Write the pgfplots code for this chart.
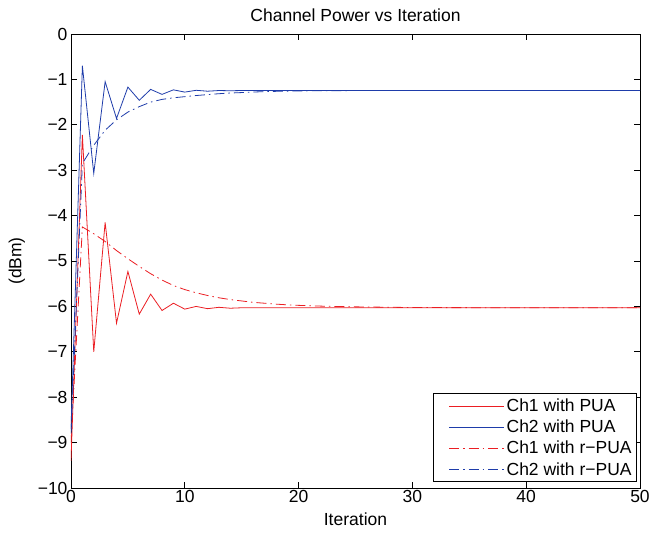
\documentclass[border=0pt]{standalone}
\usepackage{fontspec}
\setmainfont{Liberation Sans}
\usepackage{pgfplots}
\pgfplotsset{compat=1.18}

\definecolor{chred}{RGB}{235,30,35}
\definecolor{chblue}{RGB}{30,60,170}

\pgfplotstableread{
x ch1 ch2
0 -9.4 -8.7
1 -2.22 -0.70
2 -7.00 -3.07
3 -4.15 -1.05
4 -6.37 -1.86
5 -5.23 -1.17
6 -6.17 -1.46
7 -5.73 -1.22
8 -6.09 -1.33
9 -5.93 -1.23
10 -6.06 -1.28
11 -6.00 -1.24
12 -6.05 -1.26
13 -6.02 -1.245
14 -6.04 -1.25
15 -6.03 -1.245
20 -6.03 -1.245
30 -6.03 -1.245
40 -6.03 -1.245
50 -6.03 -1.245
}\puatable

\pgfplotstableread{
x ch1 ch2
0 -9.0 -8.8
1 -4.25 -2.85
2 -4.40 -2.45
3 -4.57 -2.12
4 -4.77 -1.89
5 -4.95 -1.72
6 -5.12 -1.60
7 -5.28 -1.50
8 -5.42 -1.44
9 -5.54 -1.405
10 -5.63 -1.38
11 -5.70 -1.355
12 -5.76 -1.335
13 -5.81 -1.315
14 -5.85 -1.30
15 -5.88 -1.29
16 -5.91 -1.278
17 -5.93 -1.27
18 -5.95 -1.263
19 -5.965 -1.258
20 -5.977 -1.254
22 -5.994 -1.249
25 -6.01 -1.246
30 -6.025 -1.245
40 -6.03 -1.245
50 -6.03 -1.245
}\rpuatable

\begin{document}
\begin{tikzpicture}
\useasboundingbox (-71pt,-54pt) rectangle (587pt,488pt);
\begin{axis}[
  at={(0pt,0pt)}, anchor=south west,
  width=569pt, height=454pt, scale only axis,
  xmin=0, xmax=50, ymin=-10, ymax=0,
  xtick={0,10,...,50},
  ytick={-10,-9,...,0},
  yticklabels={−10,−9,−8,−7,−6,−5,−4,−3,−2,−1,0},
  tick align=inside,
  major tick length=6pt,
  axis line style={line width=0.8pt},
  every tick/.style={black, line width=0.8pt},
  /pgf/number format/assume math mode=true,
  tick label style={font=\fontsize{17.5}{20}\selectfont},
  xticklabel style={yshift=1pt},
  label style={font=\fontsize{17.5}{20}\selectfont},
  title style={font=\fontsize{17.5}{20}\selectfont, yshift=3pt},
  title={Channel Power vs Iteration},
  xlabel={Iteration},
  ylabel={(dBm)},
  xlabel style={yshift=-3pt},
  ylabel style={yshift=6pt},
  legend style={font=\fontsize{17.5}{20}\selectfont, at={(1,0)},
    anchor=south east, xshift=-3pt, yshift=6pt, draw=black, line width=0.8pt,
    row sep=3pt, inner xsep=3pt, inner ysep=3pt},
  legend cell align=left,
  legend image code/.code={\path (0pt,0pt); \draw[#1] (12pt,0pt) -- (67pt,0pt);},
  every axis plot/.append style={line width=0.8pt},
]
\addplot[chred] table[x=x, y=ch1] {\puatable};
\addlegendentry{Ch1 with PUA}
\addplot[chblue] table[x=x, y=ch2] {\puatable};
\addlegendentry{Ch2 with PUA}
\addplot[chred, dash pattern=on 10pt off 4pt on 1.5pt off 4pt] table[x=x, y=ch1] {\rpuatable};
\addlegendentry{Ch1 with r−PUA}
\addplot[chblue, dash pattern=on 10pt off 4pt on 1.5pt off 4pt] table[x=x, y=ch2] {\rpuatable};
\addlegendentry{Ch2 with r−PUA}
\end{axis}
\end{tikzpicture}
\end{document}
